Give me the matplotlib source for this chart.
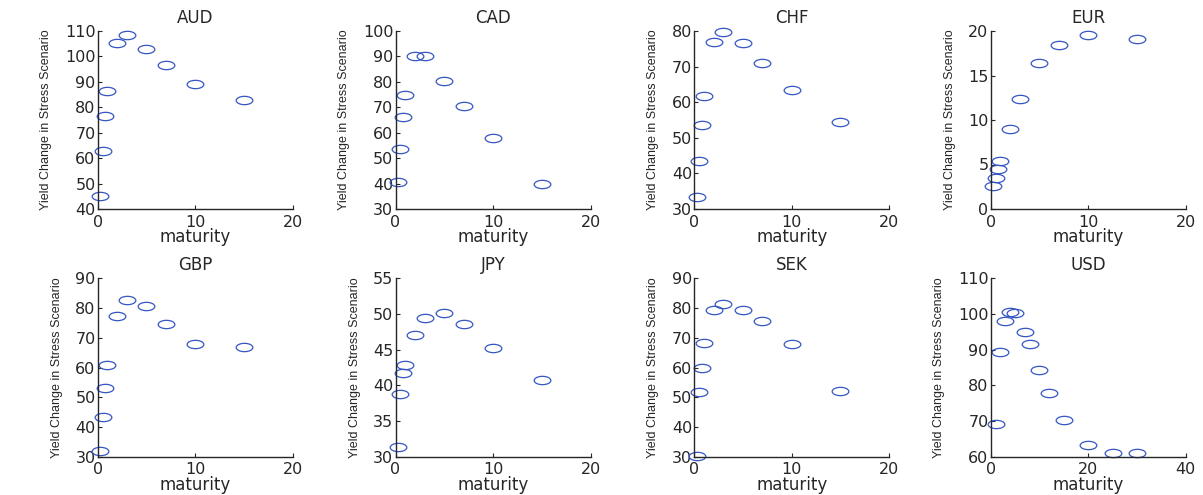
import matplotlib
matplotlib.use("Agg")
import matplotlib.pyplot as plt
from matplotlib.path import Path
from matplotlib.transforms import Affine2D

# maturities (years) used for all currencies except USD
maturities = [0.25, 0.5, 0.75, 1, 2, 3, 5, 7, 10, 15]
usd_maturities = [1, 2, 3, 4, 5, 7, 8, 10, 12, 15, 20, 25, 30]

currencies = ["AUD", "CAD", "CHF", "EUR", "GBP", "JPY", "SEK", "USD"]

aud = [45.2, 62.8, 76.6, 86.5, 105.4, 108.4, 103.0, 96.6, 89.3, 82.7]
cad = [40.6, 53.7, 66.0, 74.9, 90.3, 90.3, 80.4, 70.6, 58.1, 39.7]
chf = [33.4, 43.6, 53.6, 61.8, 76.9, 79.8, 76.6, 71.0, 63.4, 54.3]
eur = [2.53, 3.46, 4.47, 5.36, 8.94, 12.4, 16.35, 18.44, 19.52, 19.07]
gbp = [32.0, 43.2, 53.0, 60.7, 77.3, 82.8, 80.7, 74.7, 67.9, 66.9]
jpy = [31.3, 38.8, 41.7, 42.9, 47.0, 49.4, 50.2, 48.6, 45.3, 40.8]
sek = [30.2, 51.6, 59.8, 68.4, 79.5, 81.3, 79.3, 75.5, 68.0, 52.2]
usd = [69.2, 89.4, 97.9, 100.65, 100.3, 94.95, 91.5, 84.3, 77.8, 70.4, 63.4, 61.0, 61.1]

# axis limits / ticks per panel
ylims = [(40, 110, 10), (30, 100, 10), (30, 80, 10), (0, 20, 5),
         (30, 90, 10), (30, 55, 5), (30, 90, 10), (60, 110, 10)]
xlims = [(0, 20, 10)] * 7 + [(0, 40, 20)]

series = [aud, cad, chf, eur, gbp, jpy, sek, usd]
xvals = [maturities] * 7 + [usd_maturities]

W, H = 1203, 495
fig = plt.figure(figsize=(W / 100, H / 100), dpi=100)
plt.rcParams["font.family"] = "DejaVu Sans"

# horizontally stretched ellipse marker
ellipse = Path.unit_circle().transformed(Affine2D().scale(2.0, 1.0))

axcol = "#262626"
lefts = [97.7, 395.5, 694.2, 990.7]
rows = [(31, 209), (278.3, 456.7)]

for i, cur in enumerate(currencies):
    r, c = divmod(i, 4)
    top, bot = rows[r]
    ax = fig.add_axes([lefts[c] / W, 1 - bot / H, 195 / W, (bot - top) / H])
    ax.plot(xvals[i], series[i], linestyle="none", marker=ellipse,
            markersize=12, markerfacecolor="none", markeredgecolor="#3556c2",
            markeredgewidth=0.9, clip_on=False)
    y0, y1, ys = ylims[i]
    x0, x1, xs = xlims[i]
    ax.set_ylim(y0, y1)
    ax.set_xlim(x0, x1)
    ax.set_yticks(range(y0, y1 + 1, ys))
    ax.set_xticks(range(x0, x1 + 1, xs))
    for s in ["top", "right"]:
        ax.spines[s].set_visible(False)
    for s in ["left", "bottom"]:
        ax.spines[s].set_color(axcol)
        ax.spines[s].set_linewidth(1.0)
    ax.tick_params(direction="in", length=3, width=0.8, colors=axcol,
                   labelsize=11.5)
    ax.tick_params(axis="y", pad=1.5)
    ax.tick_params(axis="x", pad=4)
    ax.set_title(cur, fontsize=12, color=axcol, pad=6)
    ax.set_xlabel("maturity", fontsize=12, color=axcol, labelpad=-1)
    ax.set_ylabel("Yield Change in Stress Scenario", fontsize=9,
                  family="Liberation Sans", color=axcol, labelpad=9)

fig.savefig("out.png", dpi=100)
